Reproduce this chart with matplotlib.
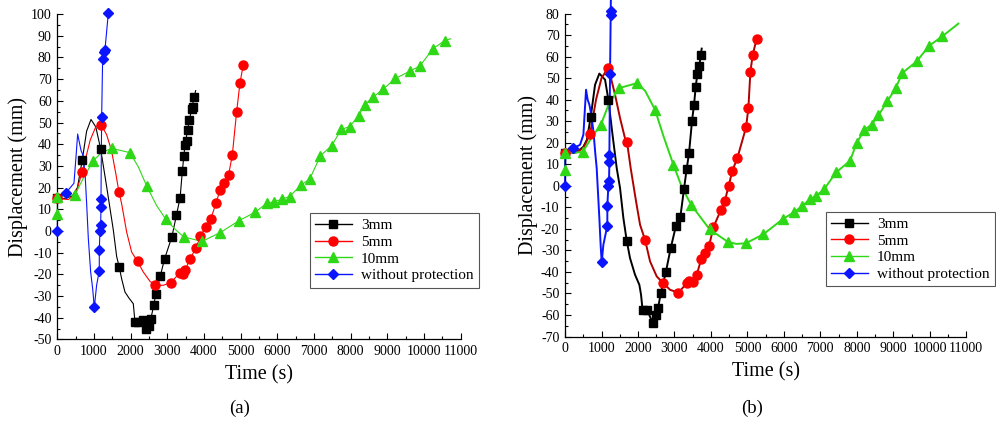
import matplotlib
matplotlib.use("Agg")
import matplotlib.pyplot as plt
from matplotlib.lines import Line2D
from matplotlib.ticker import MultipleLocator

plt.rcParams['font.family'] = ['Liberation Serif', 'DejaVu Serif']
plt.rcParams['axes.unicode_minus'] = False

labels = ['3mm', '5mm', '10mm', 'without protection']
colors = ['#000000', '#ff0000', '#2fd816', '#0a14ff']
markers = ['s', 'o', '^', 'D']
msizes = [6.3, 6.5, 7.5, 5.5]

# ---------------- (a) ----------------
# 3mm
a_t3 = [0, 683, 1183, 1690, 2119, 2210, 2328, 2410, 2501, 2546, 2637, 2683, 2810, 2925,
        3125, 3250, 3350, 3410, 3455, 3482, 3537, 3555, 3600, 3664, 3691, 3728]
a_d3 = [15, 32.9, 37.8, -16.6, -41.9, -41.9, -41.0, -45.0, -43.8, -40.7, -34.0, -28.9, -20.7, -12.9,
        -2.7, 7.3, 15.4, 27.5, 34.7, 39.5, 41.6, 46.7, 51.0, 56.4, 57.1, 61.9]
a_t3_curve = [0, 200, 400, 550, 683, 800, 920, 1050, 1183, 1347, 1528, 1620, 1690, 1755, 1846, 1955,
              2073, 2119, 2210, 2328, 2410, 2501, 2546, 2637, 2683, 2810, 2925, 3125, 3250, 3350,
              3410, 3482, 3555, 3664, 3773]
a_d3_curve = [15, 15, 16, 20, 32.9, 46, 51.4, 48, 37.8, 20.4, 0.5, -11.8, -16.6, -22, -28.1, -30.9,
              -33.5, -41.9, -41.9, -41.0, -45.0, -43.8, -40.7, -34.0, -28.9, -20.7, -12.9, -2.7, 7.3, 15.4,
              27.5, 39.5, 46.7, 56.4, 64.7]
# 5mm
a_t5 = [0, 683, 1183, 1683, 2188, 2678, 3096, 3346, 3419, 3491, 3612, 3790, 3900, 4047, 4183,
        4328, 4437, 4546, 4673, 4773, 4891, 4982, 5073]
a_d5 = [15, 27.3, 49.0, 17.9, -14.0, -25.1, -23.8, -19.2, -19.8, -18.0, -13.0, -7.7, -2.3, 1.7, 5.4,
        12.8, 18.9, 22.1, 26.0, 35.0, 55.0, 68.2, 76.7]
a_t5_curve = [0, 300, 500, 683, 900, 1050, 1183, 1346, 1483, 1601, 1683, 1755, 1892, 2028, 2188,
              2346, 2528, 2678, 2892, 3096, 3346, 3419, 3491, 3612, 3790, 3900, 4047, 4183, 4328,
              4437, 4546, 4673, 4773, 4891, 4982, 5073]
a_d5_curve = [15, 14.5, 17, 27.3, 42, 48, 49.3, 44.4, 36.8, 26, 17.9, 12.6, -0.5, -9.7, -14.0,
              -18.9, -23.2, -25.1, -25, -23.8, -19.2, -19.8, -18.0, -13.0, -7.7, -2.3, 1.7, 5.4, 12.8,
              18.9, 22.1, 26.0, 35.0, 55.0, 68.2, 76.7]
# 10mm
a_t10 = [0, 0, 483, 982, 1483, 1982, 2437, 2955, 3446, 3946, 4446, 4960, 5391, 5715, 5915, 6128,
         6337, 6646, 6883, 7178, 7487, 7741, 7973, 8219, 8382, 8619, 8891, 9219, 9619, 9891, 10246, 10564]
a_d10 = [15.8, 7.7, 16.7, 32.4, 38.1, 36.1, 20.8, 5.5, -2.7, -4.8, -0.7, 4.8, 8.6, 12.8, 13.5, 14.6,
         15.9, 21.2, 23.9, 34.7, 39.4, 46.8, 48.1, 53.2, 58.2, 61.8, 65.4, 70.3, 73.7, 76.1, 84.0, 87.7]
a_t10_curve = [0, 0, 100, 300, 483, 700, 982, 1200, 1483, 1982, 2210, 2437, 2700, 2955, 3200, 3446,
               3946, 4446, 4960, 5391, 5715, 5915, 6128, 6337, 6646, 6883, 7178, 7487, 7741, 7973,
               8219, 8382, 8619, 8891, 9219, 9619, 9891, 10246, 10564, 10730]
a_d10_curve = [7.7, 15.8, 16, 16.3, 16.7, 24, 32.4, 36, 38.1, 36.1, 29.6, 20.8, 12, 5.5, 1, -2.7,
               -4.8, -0.7, 4.8, 8.6, 12.8, 13.5, 14.6, 15.9, 21.2, 23.9, 34.7, 39.4, 46.8, 48.1,
               53.2, 58.2, 61.8, 65.4, 70.3, 73.7, 76.1, 84.0, 87.7, 88.6]
# without protection
a_tb = [0, 236, 1010, 1146, 1146, 1164, 1183, 1192, 1192, 1210, 1237, 1274, 1301, 1393]
a_db = [0, 17.6, -35.2, -18.3, -8.8, -0.2, 2.6, 11.1, 14.9, 52.4, 79.4, 82.3, 83.6, 100.6]
a_tb_curve = [0, 10, 236, 455, 510, 556, 600, 650, 700, 756, 800, 847, 911, 965, 1010, 1073, 1146,
              1146, 1164, 1183, 1192, 1192, 1210, 1237, 1274, 1301, 1393]
a_db_curve = [0, 15, 17.6, 22, 34, 44.7, 41, 37, 35, 27, 13, -3.5, -19, -26.6, -35.2, -25, -18.3,
              -8.8, -0.2, 2.6, 11.1, 14.9, 52.4, 79.4, 82.3, 83.6, 100.6]

# ---------------- (b) ----------------
b_t3 = [0, 704, 1188, 1691, 2125, 2245, 2400, 2486, 2548, 2628, 2765, 2897, 3040, 3160, 3262,
        3336, 3400, 3482, 3537, 3583, 3629, 3683, 3720]
b_d3 = [15.2, 31.9, 40.0, -25.5, -57.5, -57.5, -63.5, -60.0, -56.8, -49.9, -40.0, -29.0, -18.7, -14.7, -1.5,
        7.9, 15.2, 30.2, 37.7, 45.9, 52.1, 55.5, 60.6]
b_t3_curve = [0, 300, 500, 600, 704, 823, 941, 1097, 1188, 1300, 1417, 1508, 1600, 1691, 1782, 1919,
              2038, 2084, 2125, 2245, 2400, 2486, 2548, 2628, 2765, 2897, 3040, 3160, 3262, 3336,
              3400, 3482, 3537, 3583, 3629, 3683, 3720, 3747]
b_d3_curve = [15.2, 15.5, 18, 21.4, 31.9, 46.9, 52.1, 49.3, 40.0, 24, 8.2, -1, -15, -25.5, -33.6, -41.3,
              -46, -50.6, -57.5, -57.5, -63.5, -60.0, -56.8, -49.9, -40.0, -29.0, -18.7, -14.7, -1.5, 7.9,
              15.2, 30.2, 37.7, 45.9, 52.1, 55.5, 60.6, 63.7]
b_t5 = [0, 686, 1188, 1700, 2194, 2696, 3107, 3336, 3409, 3501, 3610, 3730, 3839, 3949, 4068,
        4270, 4380, 4489, 4588, 4725, 4963, 5027, 5082, 5146, 5256]
b_d5 = [15.2, 24.0, 54.7, 20.3, -25.1, -45.3, -49.7, -45.3, -44.1, -44.6, -41.5, -34.2, -31.1, -28.0, -19.3,
        -11.3, -7.1, 0.1, 7.0, 12.9, 27.1, 36.1, 52.8, 60.9, 68.3]
b_t5_curve = [0, 300, 500, 686, 850, 1000, 1188, 1371, 1508, 1645, 1700, 1800, 1947, 2057, 2194,
              2331, 2514, 2696, 2880, 3107, 3336, 3409, 3501, 3610, 3730, 3839, 3949, 4068, 4270,
              4380, 4489, 4588, 4725, 4963, 5027, 5082, 5146, 5256]
b_d5_curve = [15.2, 15.5, 17.5, 24.0, 40, 50, 54.9, 42.3, 31.5, 22, 20.3, 8.2, -7.2, -18.1, -25.1,
              -35.1, -42.1, -45.3, -48.3, -49.7, -45.3, -44.1, -44.6, -41.5, -34.2, -31.1, -28.0, -19.3,
              -11.3, -7.1, 0.1, 7.0, 12.9, 27.1, 36.1, 52.8, 60.9, 68.3]
b_t10 = [0, 0, 484, 978, 1490, 1983, 2468, 2971, 3455, 3967, 4469, 4958, 5440, 5969, 6275, 6504,
         6718, 6873, 7100, 7431, 7815, 7998, 8208, 8409, 8592, 8838, 9068, 9250, 9645, 9981, 10345]
b_d10 = [15.1, 7.2, 15.7, 28.1, 45.4, 47.7, 35.3, 9.8, -8.8, -20.3, -26.1, -26.7, -22.5, -15.5, -12.3, -9.4,
         -6.2, -4.8, -1.7, 6.2, 11.6, 19.9, 26.0, 28.4, 32.7, 39.2, 45.4, 52.4, 57.8, 65.0, 69.4]
b_t10_curve = [0, 0, 200, 484, 777, 978, 1200, 1490, 1983, 2200, 2468, 2700, 2971, 3200, 3455,
               3967, 4469, 4700, 4958, 5440, 5969, 6275, 6504, 6718, 6873, 7100, 7431, 7815, 7998,
               8208, 8409, 8592, 8838, 9068, 9250, 9645, 9981, 10345, 10784]
b_d10_curve = [7.2, 15.1, 15.3, 15.7, 23.7, 28.1, 38, 45.4, 47.7, 44, 35.3, 23, 9.8, -0.5, -8.8,
               -20.3, -26.1, -27, -26.7, -22.5, -15.5, -12.3, -9.4, -6.2, -4.8, -1.7, 6.2, 11.6, 19.9,
               26.0, 28.4, 32.7, 39.2, 45.4, 52.4, 57.8, 65.0, 69.4, 75.3]
b_tb = [0, 228, 1006, 1160, 1160, 1188, 1206, 1216, 1216, 1234, 1252, 1252]
b_db = [0, 17.5, -35.6, -18.5, -9.3, -0.3, 2.0, 10.9, 14.4, 51.9, 79.1, 81.3]
b_tb_curve = [0, 10, 228, 411, 503, 576, 620, 667, 720, 780, 830, 868, 941, 978, 1006, 1050, 1160,
              1160, 1188, 1206, 1216, 1216, 1234, 1252, 1252, 1270]
b_db_curve = [0, 15, 17.5, 19, 23.7, 44.6, 40, 37.7, 33, 25, 15, 8.2, -15, -28.1, -35.6, -27.5, -18.5,
              -9.3, -0.3, 2.0, 10.9, 14.4, 51.9, 79.1, 81.3, 100]

fig = plt.figure(figsize=(9.96, 4.22), dpi=100)
ax1 = fig.add_axes([0.0575, 0.1955, 0.405, 0.7713])
ax2 = fig.add_axes([0.5673, 0.2026, 0.4028, 0.7654])

panels = [
    (ax1, [(a_t3_curve, a_d3_curve, a_t3, a_d3), (a_t5_curve, a_d5_curve, a_t5, a_d5),
           (a_t10_curve, a_d10_curve, a_t10, a_d10), (a_tb_curve, a_db_curve, a_tb, a_db)],
     (-50, 100), 0.8, '#ff0000'),
    (ax2, [(b_t3_curve, b_d3_curve, b_t3, b_d3), (b_t5_curve, b_d5_curve, b_t5, b_d5),
           (b_t10_curve, b_d10_curve, b_t10, b_d10), (b_tb_curve, b_db_curve, b_tb, b_db)],
     (-70, 80), 1.4, '#b00000'),
]

for ax, series, ylim, lw, red_line in panels:
    for i, (tc, dc, tm, dm) in enumerate(series):
        line_col = red_line if i == 1 else colors[i]
        ax.plot(tc, dc, color=line_col, lw=lw, clip_on=False, zorder=2)
        ax.plot(tm, dm, ls='none', marker=markers[i], ms=msizes[i], color=colors[i],
                mec=colors[i], clip_on=False, zorder=3)

    ax.set_xlim(0, 11000)
    ax.set_ylim(*ylim)
    ax.xaxis.set_major_locator(MultipleLocator(1000))
    ax.xaxis.set_minor_locator(MultipleLocator(500))
    ax.yaxis.set_major_locator(MultipleLocator(10))
    ax.yaxis.set_minor_locator(MultipleLocator(5))
    ax.tick_params(which='major', direction='in', length=4, width=0.8, labelsize=10, pad=4)
    ax.tick_params(which='minor', direction='in', length=2.2, width=0.8)
    for s in ['top', 'right']:
        ax.spines[s].set_visible(False)
    for s in ['left', 'bottom']:
        ax.spines[s].set_linewidth(0.9)
    ax.set_xlabel('Time (s)', fontsize=14.5, labelpad=5)
    ax.set_ylabel('Displacement (mm)', fontsize=14.5, labelpad=2)

handles = [Line2D([], [], color=colors[i], marker=markers[i], lw=1, ms=msizes[i])
           for i in range(4)]
for anchor in [(0.311, 0.495), (0.829, 0.498)]:
    leg = fig.legend(handles, labels, loc='upper left', bbox_to_anchor=anchor,
                     bbox_transform=fig.transFigure, fontsize=11, frameon=True, fancybox=False,
                     edgecolor='#555555', framealpha=1, handlelength=2.4, labelspacing=0.2,
                     borderpad=0.35, handletextpad=0.6, borderaxespad=0)
    leg.get_frame().set_linewidth(0.8)

fig.text(0.241, 0.033, '(a)', ha='center', va='center', fontsize=13.5)
fig.text(0.755, 0.033, '(b)', ha='center', va='center', fontsize=13.5)

fig.savefig('out.png', dpi=100)
